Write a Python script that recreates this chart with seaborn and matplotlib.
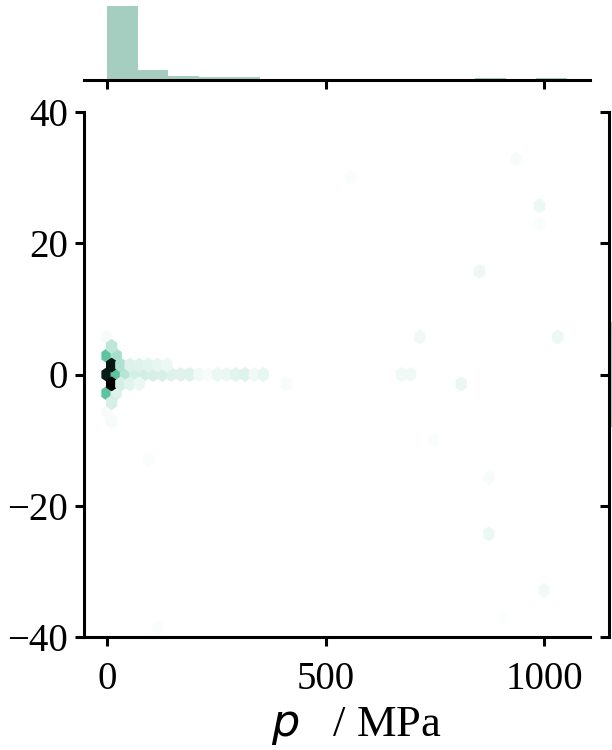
import matplotlib
matplotlib.use("Agg")
import matplotlib.pyplot as plt
import numpy as np
import seaborn as sns
from matplotlib.colors import LinearSegmentedColormap

# hexbin cells: pressure (MPa), second variable, count per cell
p_mpa = [0, 0, 0, 0, 0,
         10.5, 10.5, 10.5, 10.5, 10.5,
         21, 21, 21, 31.6, 31.6,
         42, 52.6, 52.6, 63, 73.6, 73.6,
         84, 94.7, 105, 115.7, 126, 136.7,
         147, 168, 189, 212, 231, 252, 273, 294, 315, 336, 357,
         418, 93, 115,
         565, 929, 995, 983, 848, 707, 1025, 674, 700, 803,
         877, 872, 997, 743, 913]
tau = [0, 2.86, -2.86, 5.71, -5.71,
       1.43, -1.43, 4.29, -4.29, -7.14,
       0, 2.86, -2.86, 1.43, -1.43,
       0, 1.43, -1.43, 0, 1.43, -1.43,
       0, 1.43, 0, 1.43, 0, 1.43,
       0, 0, 0, 0, 0, 0, 0, 0, 0, 0, 0,
       -1.4, -12.7, -38.5,
       29.7, 32.6, 25.7, 22.5, 15.9, 5.4, 5.1, 0, 0, -1.8,
       -23.6, -15.7, -33.1, -9.3, -37.4]
counts = [180, 100, 100, 5, 5,
          185, 200, 40, 25, 6,
          100, 55, 20, 50, 25,
          45, 22, 18, 28, 20, 12,
          28, 18, 25, 15, 25, 12,
          22, 20, 22, 8, 5, 14, 14, 18, 22, 10, 16,
          6, 4, 4,
          4, 5, 12, 4, 12, 10, 12, 10, 10, 14,
          12, 6, 8, 4, 3]

sns.set_theme(style="ticks")
plt.rcParams['font.family'] = ['Liberation Serif', 'DejaVu Serif']
plt.rcParams.update({'axes.edgecolor': 'black', 'xtick.color': 'black', 'ytick.color': 'black',
                     'text.color': 'black', 'axes.labelcolor': 'black'})

hex_cmap = LinearSegmentedColormap.from_list(
    "hexgreen", [(0, "#ffffff"), (0.5, "#5ec4a0"), (0.85, "#0a2e24"), (1, "#000000")])
bar_color = "#a5cec0"

g = sns.JointGrid(height=6, ratio=5, space=0.3)
fig = g.figure
fig.set_size_inches(6.12, 7.5)

# place the three axes to match the cropped layout
g.ax_joint.set_position([84 / 612, 113 / 750, 506 / 612, 525 / 750])
g.ax_marg_x.set_position([84 / 612, 670 / 750, 506 / 612, 78 / 750])
g.ax_marg_y.set_position([609 / 612, 113 / 750, 100 / 612, 525 / 750])

g.ax_joint.hexbin(p_mpa, tau, C=counts, reduce_C_function=np.sum, gridsize=50,
                  extent=(0, 1052, -40, 40), cmap=hex_cmap, mincnt=1, vmin=0,
                  linewidths=1.5, edgecolors="face")

sns.histplot(x=p_mpa, weights=counts, bins=15, binrange=(0, 1052), ax=g.ax_marg_x,
             color=bar_color, alpha=1, linewidth=0)
sns.histplot(y=tau, weights=counts, bins=15, binrange=(-40, 40), ax=g.ax_marg_y,
             color=bar_color, alpha=1, linewidth=0)

g.ax_joint.set_ylim(-40, 40)
g.ax_joint.set_yticks([-40, -20, 0, 20, 40])
g.ax_joint.set_xticks([0, 500, 1000])
g.ax_joint.set_xlabel("$p$   / MPa", fontsize=32, labelpad=5)
g.ax_joint.xaxis.label.set_x(0.539)
g.ax_joint.set_ylabel("")
g.ax_marg_x.set_xlabel("")
g.ax_marg_x.set_ylabel("")
g.ax_marg_y.set_xlabel("")
g.ax_marg_y.set_ylabel("")

for ax in [g.ax_joint, g.ax_marg_x, g.ax_marg_y]:
    for s in ax.spines.values():
        s.set_linewidth(2.2)
    ax.tick_params(length=6.5, width=2.2, labelsize=28, pad=8)
g.ax_joint.tick_params(axis="y", pad=5)
g.ax_joint.tick_params(axis="x", pad=11)

fig.savefig("out.png", dpi=100)
